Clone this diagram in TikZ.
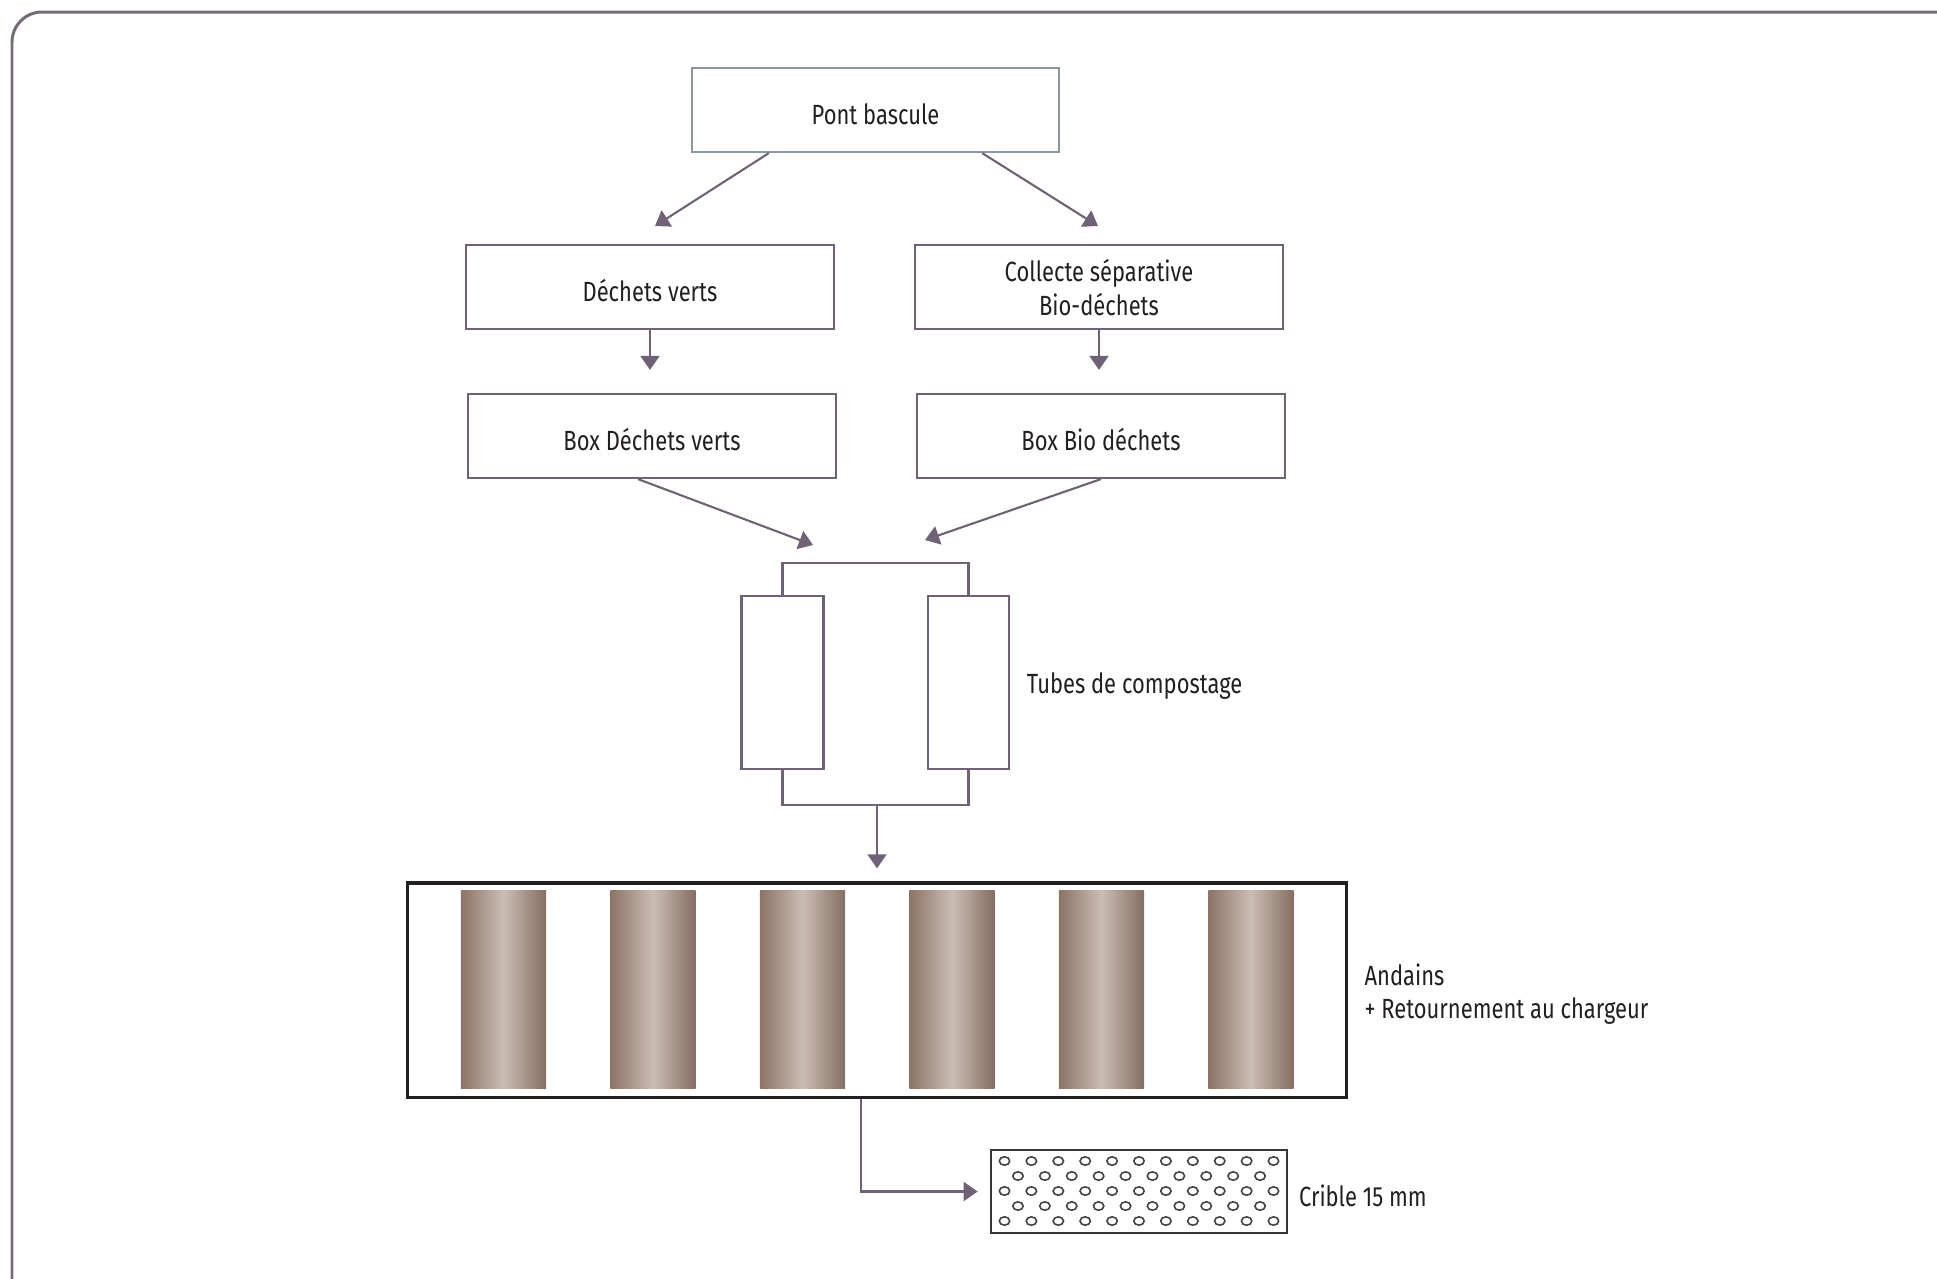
\documentclass[tikz,border=0pt]{standalone}
\usepackage{fontspec}
\setmainfont{Fira Sans}[FakeStretch=0.79]
\usetikzlibrary{positioning,arrows.meta}

\definecolor{trait}{HTML}{6F6276}
\definecolor{cadre}{HTML}{76697A}
\definecolor{grisbleu}{HTML}{8B979E}
\definecolor{texte}{HTML}{231F20}
\definecolor{brunfonce}{HTML}{8C7466}
\definecolor{brunclair}{HTML}{CBBDB3}

\begin{document}
\begin{tikzpicture}[x=0.01cm, y=-0.01cm, font=\fontsize{7.9}{9.6}\selectfont, text=texte,
  etape/.style={draw=trait, line width=0.6pt, minimum width=3.68cm, minimum height=0.84cm, align=center, inner sep=0pt, text depth=0pt},
  ligne/.style={text height=0.83em},
  tube/.style={draw=trait, line width=0.6pt, minimum width=0.82cm, minimum height=1.73cm, inner sep=0pt},
  andain/.style={left color=brunfonce, right color=brunfonce!95!black, middle color=brunclair, minimum width=0.85cm, minimum height=1.97cm, inner sep=0pt},
  flux/.style={draw=trait, line width=0.6pt, -{Triangle[length=4pt,width=5.4pt]}},
  liaison/.style={draw=trait, line width=0.6pt},
  trou/.style={draw=texte!85, line width=0.45pt},
  legende/.style={align=left, inner sep=0pt, yshift=-0.04cm}]
\useasboundingbox (0,0) rectangle (1937,1278);
\clip (0,0) rectangle (1937,1278);
\draw[cadre, line width=0.85pt, rounded corners=0.3cm] (12,12) rectangle (1990,1330);

% etapes du haut
\node[etape, ligne, draw=grisbleu, minimum width=3.67cm] (pont) at (875.5,110) {Pont bascule};
\node[etape, ligne] (dv) at (650,287) {Déchets verts};
\node[etape] (collecte) at (1099,287) {Collecte séparative\\Bio-déchets};
\node[etape, ligne] (boxdv) at (652,436) {Box Déchets verts};
\node[etape, ligne] (boxbio) at (1101,436) {Box Bio déchets};

\coordinate (pointe1) at (655,226);
\coordinate (pointe2) at (1098,226);
\coordinate (pointe3) at (813,545);
\coordinate (pointe4) at (925,540);
\draw[flux] (pont.202.7) -- (pointe1);
\draw[flux] (pont.338.1) -- (pointe2);
\draw[flux, shorten >=0.23cm] (dv.south) -- (dv.south |- boxdv.north);
\draw[flux, shorten >=0.23cm] (collecte.south) -- (collecte.south |- boxbio.north);
\draw[flux] (boxdv.252.8) -- (pointe3);
\draw[flux] (boxbio.south) -- (pointe4);

% tubes
\node[tube] (tube1) at (782.5,682.5) {};
\node[tube, minimum width=0.81cm] (tube2) at (968.5,682.5) {};
\node[legende, right=0.16cm of tube2] (ltubes) {Tubes de compostage};
\coordinate (haut) at (877,563);
\coordinate (bas) at (877,805);
\draw[liaison] (tube1.north) |- (haut) -| (tube2.north);
\draw[liaison] (tube1.south) |- (bas) -| (tube2.south);

% andains
\node[draw=texte, line width=0.9pt, minimum width=9.38cm, minimum height=2.14cm] (andains) at (877,990) {};
\foreach \i in {0,...,5}
  \node[andain] (andain\i) at ({503.5+149.5*\i},989.5) {};
\node[legende, right=0.16cm of andains] (landains) {Andains\\+ Retournement au chargeur};
\draw[flux, shorten >=0.13cm] (bas) -- (andains.north);

% crible
\node[draw=texte!90, line width=0.7pt, minimum width=2.96cm, minimum height=0.83cm] (crible) at (1139,1191.5) {};
\foreach \ry/\n/\d in {-30/11/5, -15/10/4.5, 0/11/5, 15/10/4.5, 30/11/5} {
  \pgfmathtruncatemacro\m{\n-1}
  \foreach \i in {0,...,\m}
    \draw[trou] ({1139+(\i-\d)*26.9},{1191+\ry}) ellipse [x radius=0.052cm, y radius=0.042cm];
}
\node[legende, right=0.1cm of crible] (lcrible) {Crible 15 mm};
\coordinate (coude) at (861,1192);
\draw[flux, shorten >=0.12cm] (andains.south -| coude) |- (crible.west);
\end{tikzpicture}
\end{document}
